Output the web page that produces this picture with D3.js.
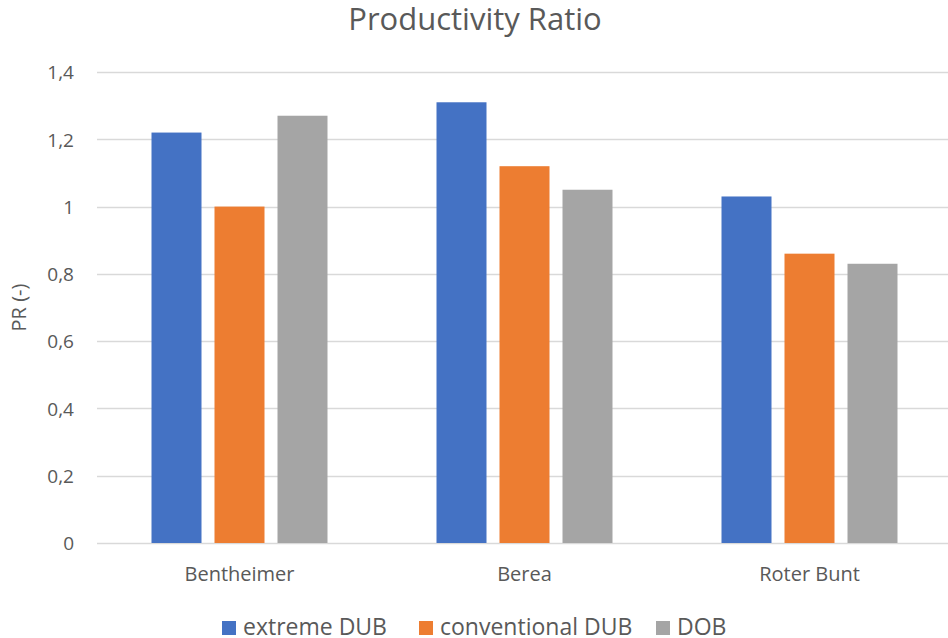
<!DOCTYPE html>
<html>
<head>
<meta charset="utf-8">
<script src="https://cdn.jsdelivr.net/npm/d3@7"></script>
<style>
  html, body { margin: 0; padding: 0; background: #fff; }
  svg { display: block; font-family: "Open Sans", Lato, sans-serif; }
</style>
</head>
<body>
<svg id="chart" width="948" height="638"></svg>
<script>
// Rock types on the x axis
const categories = ["Bentheimer", "Berea", "Roter Bunt"];
// Series
const seriesNames = ["extreme DUB", "conventional DUB", "DOB"];
const extremeDUB = [1.22, 1.31, 1.03];
const conventionalDUB = [1.00, 1.12, 0.86];
const dob = [1.27, 1.05, 0.83];
const seriesColors = ["#4472C4", "#ED7D31", "#A5A5A5"];
const yTicks = [0, 0.2, 0.4, 0.6, 0.8, 1, 1.2, 1.4];

const seriesValues = [extremeDUB, conventionalDUB, dob];

const svg = d3.select("#chart");
const W = 948, H = 638;
const margin = { left: 97, right: -4, top: 72, bottom: 95 };
const plotBottom = H - margin.bottom; // 543
const fontFamily = "'Open Sans', Lato, sans-serif";

const x = d3.scaleBand()
  .domain(categories)
  .range([margin.left, W - margin.right])
  .paddingInner(0)
  .paddingOuter(0);

const y = d3.scaleLinear()
  .domain([0, 1.4])
  .range([plotBottom, margin.top]);

const textColor = "#595959";

// Title
svg.append("text")
  .attr("x", 475).attr("y", 30)
  .attr("text-anchor", "middle")
  .attr("font-size", 31)
  .attr("fill", textColor)
  .text("Productivity Ratio");

// Horizontal gridlines
svg.append("g")
  .selectAll("line")
  .data(yTicks)
  .join("line")
  .attr("x1", margin.left).attr("x2", W)
  .attr("y1", d => Math.round(y(d)) + 0.5)
  .attr("y2", d => Math.round(y(d)) + 0.5)
  .attr("stroke", "#D9D9D9")
  .attr("stroke-width", 1.5);

// Y axis labels
const fmt = d => d3.format("~g")(d).replace(".", ",");
const yAxis = d3.axisLeft(y).tickValues(yTicks).tickFormat(fmt).tickSize(0).tickPadding(0);
const gy = svg.append("g").attr("transform", `translate(74,0)`).call(yAxis);
gy.select(".domain").remove();
gy.selectAll("text")
  .attr("dy", "0.36em")
  .attr("font-size", 19)
  .attr("fill", textColor)
  .attr("font-family", fontFamily);

// Y axis title
svg.append("text")
  .attr("transform", `translate(26,${(y(0) + y(1.4)) / 2}) rotate(-90)`)
  .attr("text-anchor", "middle")
  .attr("font-size", 20)
  .attr("fill", textColor)
  .text("PR (-)");

// Bars
const barW = 50, barStep = 63;
const groups = svg.append("g")
  .selectAll("g")
  .data(categories)
  .join("g")
  .attr("transform", d => `translate(${x(d) + x.bandwidth() / 2},0)`);

groups.selectAll("rect")
  .data((c, ci) => seriesValues.map((vals, si) => ({ si, v: vals[ci] })))
  .join("rect")
  .attr("x", d => (d.si - 1) * barStep - barW / 2)
  .attr("width", barW)
  .attr("y", d => y(d.v))
  .attr("height", d => y(0) - y(d.v))
  .attr("fill", d => seriesColors[d.si]);

// Category labels
const xAxis = d3.axisBottom(x).tickSize(0).tickPadding(0);
const gx = svg.append("g").attr("transform", `translate(0,581)`).call(xAxis);
gx.select(".domain").remove();
gx.selectAll("text")
  .attr("dy", 0)
  .attr("font-size", 20)
  .attr("fill", textColor)
  .attr("font-family", fontFamily);

// Legend
const legendX = [222, 419, 656];
const legend = svg.append("g");
seriesNames.forEach((name, i) => {
  const g = legend.append("g").attr("transform", `translate(${legendX[i]},0)`);
  g.append("rect")
    .attr("x", 0).attr("y", 621)
    .attr("width", 14).attr("height", 14)
    .attr("fill", seriesColors[i]);
  g.append("text")
    .attr("x", 21).attr("y", 635)
    .attr("font-size", 23)
    .attr("fill", textColor)
    .text(name);
});
</script>
</body>
</html>
